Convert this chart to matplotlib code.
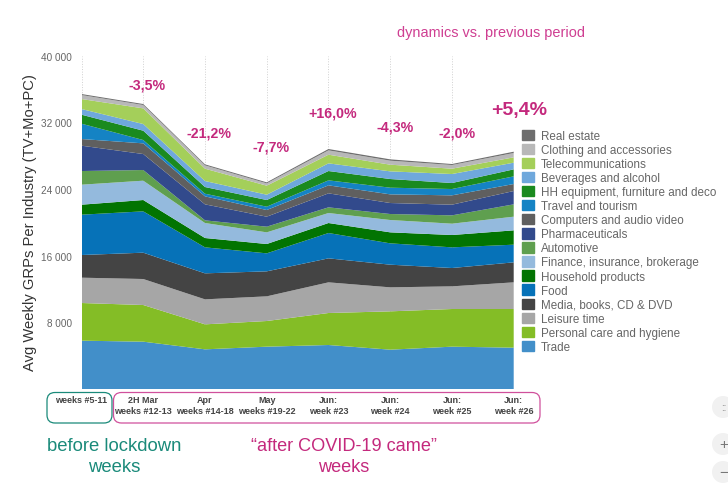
import matplotlib
matplotlib.use("Agg")
import matplotlib.pyplot as plt
from matplotlib.patches import Circle, FancyBboxPatch, Patch

plt.rcParams["font.family"] = ["Liberation Sans", "DejaVu Sans"]

W, H = 728, 485

periods = ["weeks #5-11\n", "2H Mar\nweeks #12-13", "Apr\nweeks #14-18", "May\nweeks #19-22",
           "Jun:\nweek #23", "Jun:\nweek #24", "Jun:\nweek #25", "Jun:\nweek #26"]
dynamics = ["-3,5%", "-21,2%", "-7,7%", "+16,0%", "-4,3%", "-2,0%", "+5,4%"]

# bottom to top, avg weekly GRPs
trade = [5800, 5680, 4760, 5080, 5280, 4720, 5080, 4960]
personal_care = [4520, 4400, 3000, 3080, 3840, 4600, 4520, 4640]
leisure = [3040, 3120, 3000, 2960, 3680, 2880, 2720, 3200]
media = [2720, 3160, 3120, 3000, 2880, 2720, 2200, 2400]
food = [4840, 4960, 3120, 2160, 3040, 2560, 2480, 2120]
household = [1200, 1360, 1120, 1120, 1200, 1320, 1480, 1720]
finance = [2400, 2320, 1800, 1400, 1200, 1480, 1360, 1640]
automotive = [1640, 1280, 320, 680, 680, 720, 1000, 1480]
pharma = [3040, 1920, 1920, 1200, 1680, 1320, 1280, 1600]
computers = [800, 1280, 960, 800, 960, 1040, 1120, 840]
travel = [1840, 400, 320, 400, 600, 800, 760, 920]
hh_equipment = [1080, 1120, 800, 800, 1120, 1040, 720, 840]
beverages = [680, 800, 720, 640, 920, 920, 1080, 800]
telecom = [1200, 1880, 1480, 1080, 1040, 800, 640, 640]
clothing = [480, 400, 400, 280, 520, 480, 440, 520]
real_estate = [120, 120, 120, 120, 160, 160, 120, 160]

series = [trade, personal_care, leisure, media, food, household, finance, automotive,
          pharma, computers, travel, hh_equipment, beverages, telecom, clothing, real_estate]
labels = ["Trade", "Personal care and hygiene", "Leisure time", "Media, books, CD & DVD", "Food",
          "Household products", "Finance, insurance, brokerage", "Automotive", "Pharmaceuticals",
          "Computers and audio video", "Travel and tourism", "HH equipment, furniture and deco",
          "Beverages and alcohol", "Telecommunications", "Clothing and accessories", "Real estate"]
colors = ["#428fc9", "#84bd26", "#a6a6a6", "#444444", "#0672b8", "#027402", "#94badd", "#5f9f4f",
          "#324a8c", "#5f5f5f", "#1583c4", "#1a8a1f", "#6fa8dc", "#a4cf5a", "#b8b8b8", "#6e6e6e"]

PINK = "#c4297d"
TEAL = "#1a8a7a"
GREY = "#666666"


def fx(x):
    return x / W


def fy(y):
    return 1 - y / H


fig = plt.figure(figsize=(W / 100, H / 100), dpi=100)
ax = fig.add_axes([fx(81.5), fy(390), (513.7 - 81.5) / W, (390 - 56.7) / H])

xs = list(range(len(periods)))
ax.stackplot(xs, series, colors=colors, labels=labels, linewidth=0, zorder=2)
ax.set_xlim(0, 7)
ax.set_ylim(0, 40000)

ax.set_yticks([8000, 16000, 24000, 32000, 40000])
ax.set_yticklabels(["8 000", "16 000", "24 000", "32 000", "40 000"], fontsize=7.2, color=GREY)
ax.set_xticks(xs)
ax.set_xticklabels(periods, fontsize=6.5, fontweight="bold", color="#444444", linespacing=1.3)
ax.tick_params(length=0)
ax.tick_params(axis="x", pad=4)
ax.tick_params(axis="y", pad=7)
ax.xaxis.grid(True, color="#d0d0d0", ls=":", lw=0.7, zorder=1)
for s in ax.spines.values():
    s.set_visible(False)
fig.text(fx(30), fy(222.5), "Avg Weekly GRPs Per Industry (TV+Mo+PC)", rotation=90,
         ha="center", va="center", fontsize=10.65, color="#333333")

# legend reads top to bottom, opposite to the stack
h = [Patch(color=c, label=l) for c, l in zip(colors[::-1], labels[::-1])]
ax.legend(handles=h, loc="upper left", bbox_to_anchor=(fx(522), fy(130.5)),
          bbox_transform=fig.transFigure, frameon=False, fontsize=8.4, labelcolor=GREY,
          handlelength=1.03, handleheight=1.0, handletextpad=0.6, labelspacing=0.16,
          borderpad=0, borderaxespad=0)

# percent labels
text_pos = [(147, 86), (209, 134), (271, 147), (332.7, 114), (395, 128), (456.7, 134), (519, 111)]
for i, (lab, (x, y)) in enumerate(zip(dynamics, text_pos)):
    fig.text(fx(x), fy(y), lab, ha="center", va="center", color=PINK, fontweight="bold",
             fontsize=14 if i == 6 else 10.2)
fig.text(fx(491), fy(33), "dynamics vs. previous period", ha="center", va="center",
         color="#cf3f92", fontsize=10.45)

# rounded boxes round the period labels
for x0, x1, c in [(47, 112, TEAL), (113.5, 540, "#d0509c")]:
    fig.add_artist(FancyBboxPatch((x0 + 6, H - 424 + 6), x1 - x0 - 12, 30.5 - 12,
                                  boxstyle="round,pad=6,rounding_size=8", fc="none", ec=c, lw=0.9,
                                  transform=None))

fig.text(fx(114.5), fy(457), "before lockdown\nweeks", ha="center", va="center", color=TEAL,
         fontsize=13.3, linespacing=1.3)
fig.text(fx(344), fy(457), "\u201cafter COVID-19 came\u201d\nweeks", ha="center", va="center", color=PINK,
         fontsize=13.1, linespacing=1.3)

# page zoom buttons at the right edge of the screenshot
for y, mark, size in [(408, "::", 7), (445, "+", 11), (473, "\u2212", 11)]:
    fig.add_artist(Circle((723, H - y), 11, fc="#f1f1f1", ec="none", transform=None))
    fig.text(fx(724), fy(y), mark, ha="center", va="center", color="#777777", fontsize=size)

fig.savefig("out.png", dpi=100)
